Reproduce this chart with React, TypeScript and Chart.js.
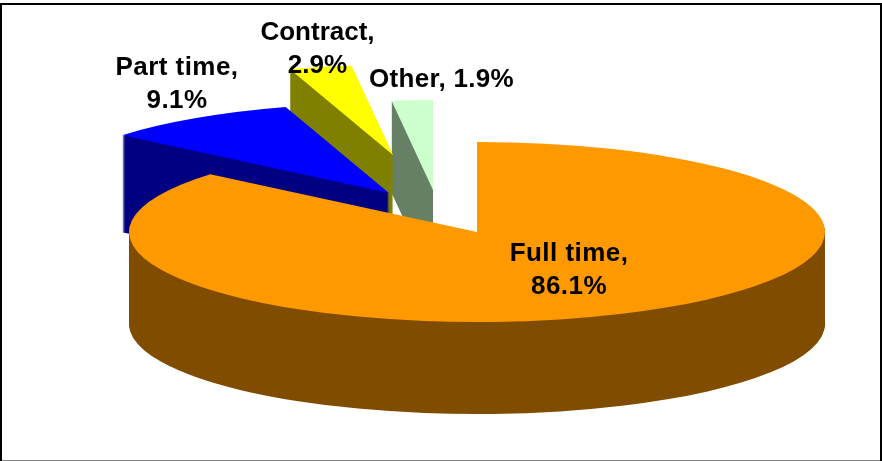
import React, { useEffect, useRef } from "react";
import { Chart, registerables } from "chart.js";

Chart.register(...registerables);

const categories = ["Full time", "Part time", "Contract", "Other"];
const shares = [86.1, 9.1, 2.9, 1.9];
const faceColors = ["#FF9900", "#0000FF", "#FFFF00", "#CCFFCC"];
const sideColors = ["#804D00", "#000080", "#808000", "#668066"];

// Projection of the flat pie into the tilted 3D look
const view = { cx: 477, cy: 232, rx: 348, ry: 90 };
const depths = [92, 97, 92, 92];
const explode = [
  [0, 0],
  [-88, -39],
  [-84, -77],
  [-44, -42],
];
const drawOrder = [3, 2, 1, 0];
// anchor x, baseline y of the first line, and line breaks per label
const labelAnchors = [
  { x: 569, y: 261, split: true, spacing: 0.45 },
  { x: 177, y: 75, split: true, spacing: 0.45 },
  { x: 317.5, y: 40, split: true, spacing: 0 },
  { x: 441.5, y: 87, split: false, spacing: 0.3 },
];

const pie3d = {
  id: "pie3d",
  beforeDatasetsDraw(chart: any) {
    const ctx = chart.ctx;
    const arcs = chart.getDatasetMeta(0).data;
    drawOrder.forEach((i) => {
      const arc = arcs[i];
      const base = arc.options;
      const R = arc.outerRadius;
      const paint = (k: number, color: string) => {
        arc.options = { ...base, backgroundColor: color, borderWidth: 0 };
        ctx.save();
        ctx.translate(view.cx + explode[i][0], view.cy + explode[i][1] + k);
        ctx.scale(view.rx / R, view.ry / R);
        ctx.translate(-arc.x, -arc.y);
        arc.draw(ctx);
        ctx.restore();
      };
      for (let k = depths[i]; k >= 1; k--) paint(k, sideColors[i]);
      paint(0, faceColors[i]);
      arc.options = base;
    });
    return false;
  },
  afterDraw(chart: any) {
    const ctx = chart.ctx;
    ctx.save();
    ctx.fillStyle = "#000000";
    ctx.font = "bold 26px 'Liberation Sans', Arial, sans-serif";
    ctx.textAlign = "center";
    ctx.textBaseline = "alphabetic";
    categories.forEach((name, i) => {
      const a = labelAnchors[i];
      ctx.letterSpacing = a.spacing + "px";
      const pct = shares[i].toFixed(1) + "%";
      if (a.split) {
        ctx.fillText(name + ",", a.x, a.y);
        ctx.fillText(pct, a.x, a.y + 33);
      } else {
        ctx.fillText(name + ", " + pct, a.x, a.y);
      }
    });
    ctx.letterSpacing = "0px";
    // chart frame
    ctx.fillStyle = "#000000";
    ctx.fillRect(0, 3, 882, 2);
    ctx.fillRect(0, 3, 2, 458);
    ctx.fillRect(880, 3, 2, 458);
    ctx.fillStyle = "#808080";
    ctx.fillRect(2, 460, 878, 1);
    ctx.restore();
  },
};

export default function App() {
  const ref = useRef<HTMLCanvasElement>(null);
  useEffect(() => {
    document.body.style.margin = "0";
    document.body.style.background = "#ffffff";
    const chart = new Chart(ref.current as HTMLCanvasElement, {
      type: "pie",
      data: {
        labels: categories,
        datasets: [{ data: shares, backgroundColor: faceColors, borderWidth: 0 }],
      },
      options: {
        responsive: false,
        animation: false,
        devicePixelRatio: 1,
        plugins: { legend: { display: false }, tooltip: { enabled: false } },
      },
      plugins: [pie3d],
    } as any);
    return () => chart.destroy();
  }, []);
  return <canvas ref={ref} width={882} height={461} style={{ display: "block" }} />;
}
